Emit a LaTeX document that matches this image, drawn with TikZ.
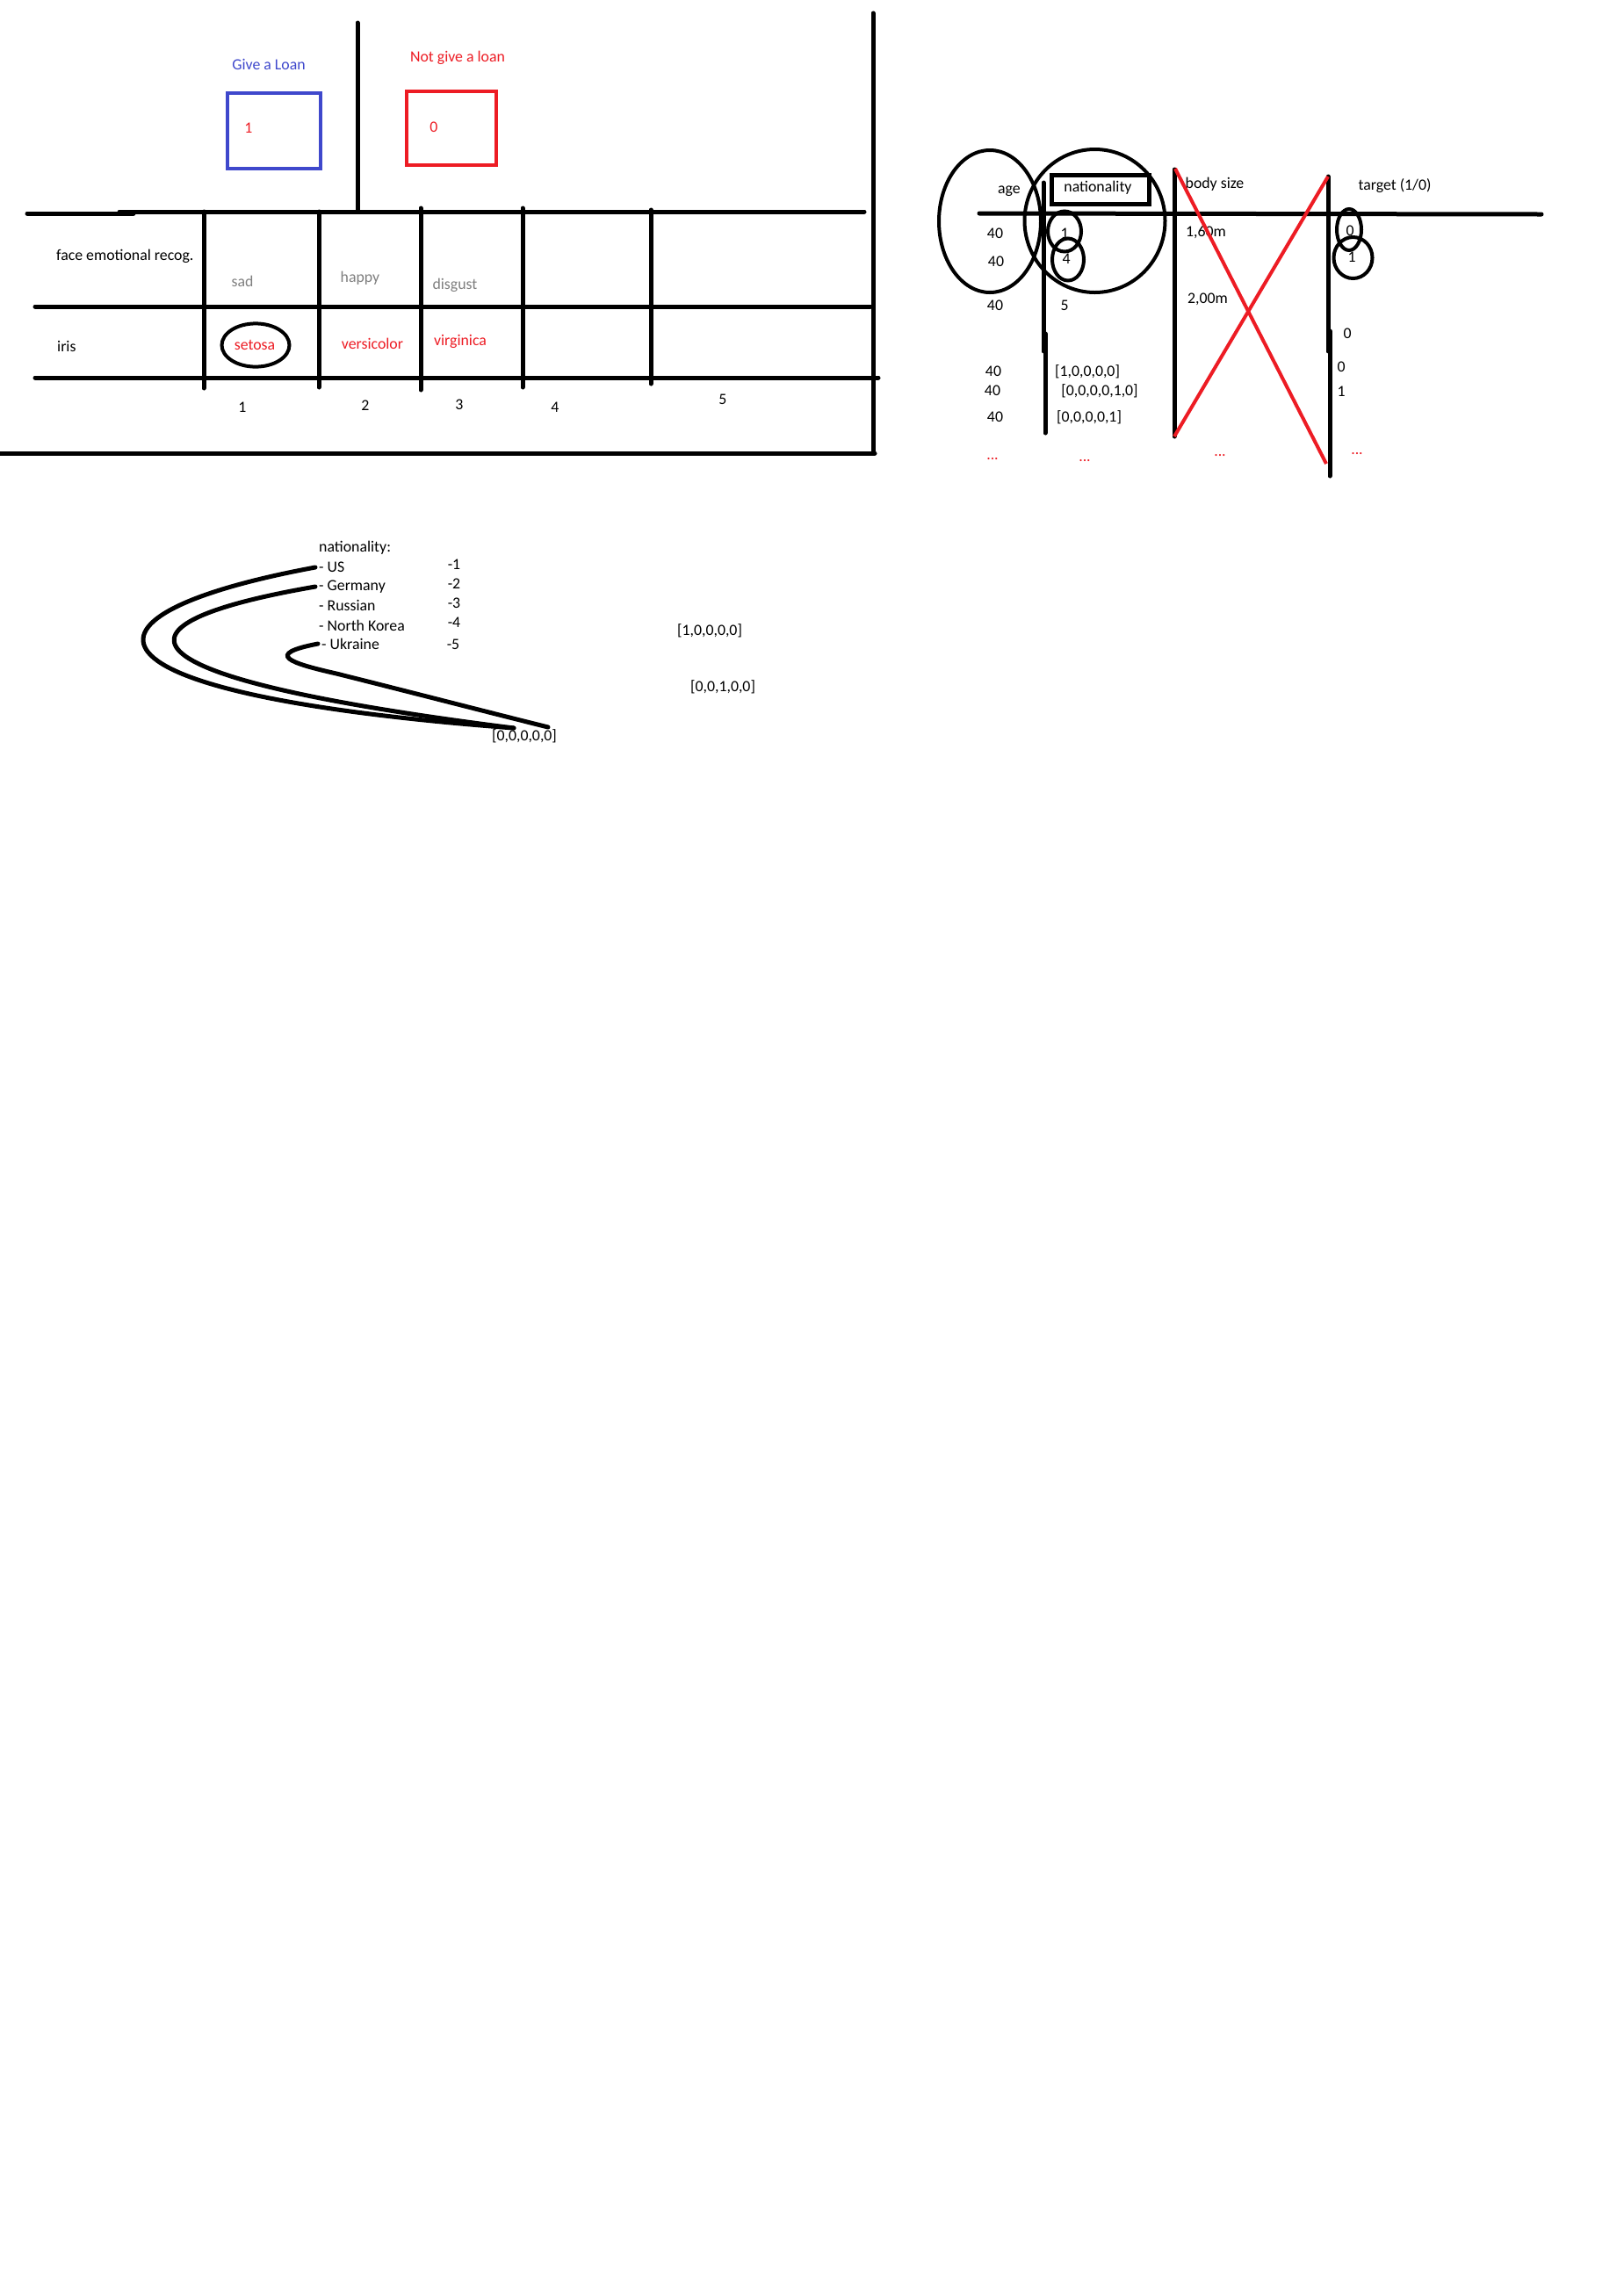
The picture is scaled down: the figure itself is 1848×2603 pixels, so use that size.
\documentclass[tikz,border=0pt]{standalone}
\usepackage{fontspec}
\setmainfont{Carlito}
\usepackage{tikz}

\definecolor{paintred}{HTML}{ED1C24}
\definecolor{paintblue}{HTML}{3F48CC}
\definecolor{paintgray}{HTML}{7F7F7F}
\newcommand{\paintsize}{\fontsize{17.8}{20}\selectfont}
\tikzset{
        txt/.style={inner sep=0pt, font=\paintsize},
        bar/.style={line width=5pt, line cap=round},
        pen/.style={line width=4pt},
}

\begin{document}
\begin{tikzpicture}[x=1pt, y=-1pt]
        \fill[white] (0,0) rectangle (1848,2603);
        \useasboundingbox (0,0) rectangle (1848,2603);
        % Coordinates
        \coordinate (A) at (407,26);
        \coordinate (B) at (407,241);
        \coordinate (C) at (31,243);
        \coordinate (D) at (152,243);
        \coordinate (E) at (136,241);
        \coordinate (F) at (984,241);
        \coordinate (G) at (40,349);
        \coordinate (H) at (991,349);
        \coordinate (I) at (40,430);
        \coordinate (J) at (1000,430);
        \coordinate (K) at (0,516);
        \coordinate (L) at (996,516);
        \coordinate (M) at (994,15);
        \coordinate (N) at (994,516);
        \coordinate (O) at (232,241);
        \coordinate (P) at (232,442);
        \coordinate (Q) at (363,241);
        \coordinate (R) at (363,441);
        \coordinate (S) at (479,237);
        \coordinate (T) at (479,444);
        \coordinate (U) at (595,237);
        \coordinate (V) at (595,441);
        \coordinate (W) at (741,239);
        \coordinate (X) at (741,437);
        \coordinate (Y) at (1115,243);
        \coordinate (Z) at (1755,244);
        \coordinate (AA) at (1188,208);
        \coordinate (AB) at (1188,400);
        \coordinate (AC) at (1190,380);
        \coordinate (AD) at (1190,493);
        \coordinate (AE) at (1337,193);
        \coordinate (AF) at (1337,497);
        \coordinate (AG) at (1512,201);
        \coordinate (AH) at (1512,400);
        \coordinate (AI) at (1514,377);
        \coordinate (AJ) at (1514,542);
        \coordinate (AK) at (1338,192);
        \coordinate (AL) at (1510,528);
        \coordinate (AO) at (1127,252);
        \coordinate (AP) at (1246.5,251.5);
        \coordinate (AQ) at (1212,263.5);
        \coordinate (AR) at (1216,295.5);
        \coordinate (AS) at (1536,261.5);
        \coordinate (AT) at (1540.5,293.5);
        \coordinate (BA) at (291,393);
        \coordinate (BB) at (383,767);
        \coordinate (BC) at (585,829);
        \coordinate (BD) at (624,828);

        % Drawing
        \draw[bar] (A) -- (B);
        \draw[bar] (C) -- (D);
        \draw[bar] (E) -- (F);
        \draw[bar] (G) -- (H);
        \draw[bar] (I) -- (J);
        \draw[bar] (K) -- (L);
        \draw[bar] (M) -- (N);
        \draw[bar] (O) -- (P);
        \draw[bar] (Q) -- (R);
        \draw[bar] (S) -- (T);
        \draw[bar] (U) -- (V);
        \draw[bar] (W) -- (X);
        \draw[paintblue, line width=4.5pt] (259,106) rectangle (365,192);
        \draw[paintred, line width=4.5pt] (463,104) rectangle (565,188);
        \node[txt, text=paintblue] (give) at (306,73) {Give a Loan};
        \node[txt, text=paintred] (notgive) at (521,66) {Not give a loan};
        \node[txt, text=paintred] (one) at (283,146) {1};
        \node[txt, text=paintred] (zero) at (494,145) {0};
        \node[txt, anchor=west] (face) at (64,292) {face emotional recog.};
        \node[txt, text=paintgray] (sad) at (276,320) {sad};
        \node[txt, text=paintgray] (happy) at (410,317) {happy};
        \node[txt, text=paintgray] (disgust) at (518,325) {disgust};
        \node[txt, anchor=west] (iris) at (65,394) {iris};
        \node[txt, text=paintred] (setosa) at (290,393) {setosa};
        \node[txt, text=paintred] (versicolor) at (424,391) {versicolor};
        \node[txt, text=paintred] (virginica) at (524,389) {virginica};
        \draw[pen] (BA) ellipse [x radius=38.5, y radius=24.6];
        \node[txt] (c1) at (276,464) {1};
        \node[txt] (c2) at (416,462) {2};
        \node[txt] (c3) at (523,461) {3};
        \node[txt] (c4) at (632,464) {4};
        \node[txt] (c5) at (823,455) {5};

        \node[txt] (age) at (1149,218) {age};
        \node[txt] (nat) at (1250,214) {nationality};
        \draw[line width=5pt] (1197,199) rectangle (1308,232);
        \node[txt] (bodysize) at (1383,210) {body size};
        \node[txt] (target) at (1588,212) {target (1/0)};
        \draw[bar] (Y) -- (Z);
        \draw[bar] (AA) -- (AB);
        \draw[bar] (AC) -- (AD);
        \draw[bar] (AE) -- (AF);
        \draw[bar] (AG) -- (AH);
        \draw[bar] (AI) -- (AJ);
        \node[txt] (a1) at (1133,266) {40};
        \node[txt] (a2) at (1134,298) {40};
        \node[txt] (a3) at (1133,348) {40};
        \node[txt] (a4) at (1131,423) {40};
        \node[txt] (a5) at (1130,445) {40};
        \node[txt] (a6) at (1133,475) {40};
        \node[txt] (n1) at (1212,266) {1};
        \node[txt] (n4) at (1214,295) {4};
        \node[txt] (n5) at (1212,348) {5};
        \node[txt] (v1) at (1238,423) {[1,0,0,0,0]};
        \node[txt] (v2) at (1252,445) {[0,0,0,0,1,0]};
        \node[txt] (v3) at (1240,475) {[0,0,0,0,1]};
        \node[txt] (b1) at (1373,265) {1,60m};
        \node[txt] (b2) at (1375,341) {2,00m};
        \node[txt] (t1) at (1537,263) {0};
        \node[txt] (t2) at (1539,293) {1};
        \node[txt] (t3) at (1534,380) {0};
        \node[txt] (t4) at (1527,418) {0};
        \node[txt] (t5) at (1527,446) {1};
        \node[txt, text=paintred] (d1) at (1130,523) {...};
        \node[txt, text=paintred] (d2) at (1235,525) {...};
        \node[txt, text=paintred] (d3) at (1389,519) {...};
        \node[txt, text=paintred] (d4) at (1545,517) {...};
        \draw[pen] (AO) ellipse [x radius=58, y radius=81];
        \draw[pen] (AP) ellipse [x radius=80, y radius=81.5];
        \draw[pen] (AQ) ellipse [x radius=19, y radius=23];
        \draw[pen] (AR) ellipse [x radius=18, y radius=24];
        \draw[pen] (AS) ellipse [x radius=14, y radius=23.5];
        \draw[pen] (AT) ellipse [x radius=22, y radius=23.5];
        \draw[paintred, pen] (AK) -- (AL);
        \draw[paintred, pen] (AF) -- (AG);

        \node[txt, anchor=west] (head) at (363,624) {nationality:};
        \node[txt, anchor=west] (us) at (363,646) {- US};
        \node[txt, anchor=west] (de) at (363,668) {- Germany};
        \node[txt, anchor=west] (ru) at (363,689) {- Russian};
        \node[txt, anchor=west] (nk) at (363,712) {- North Korea};
        \node[txt, anchor=west] (ua) at (366,733) {- Ukraine};
        \node[txt] (m1) at (517,643) {-1};
        \node[txt] (m2) at (517,665) {-2};
        \node[txt] (m3) at (517,687) {-3};
        \node[txt] (m4) at (517,709) {-4};
        \node[txt] (m5) at (516,734) {-5};
        \node[txt] (o1) at (808,718) {[1,0,0,0,0]};
        \node[txt] (o3) at (823,782) {[0,0,1,0,0]};
        \node[txt] (o0) at (597,838) {[0,0,0,0,0]};
        \draw[bar] ([xshift=-4pt]us.west) .. controls (68,700) and (68,790) .. (BC);
        \draw[bar] ([xshift=-4pt]de.west) .. controls (116,710) and (116,770) .. (BC);
        \draw[bar] ([xshift=-4pt]ua.west) .. controls (300,745) and (330,755) .. (BB) .. controls (463,787) and (544,808) .. (BD);
\end{tikzpicture}
\end{document}
